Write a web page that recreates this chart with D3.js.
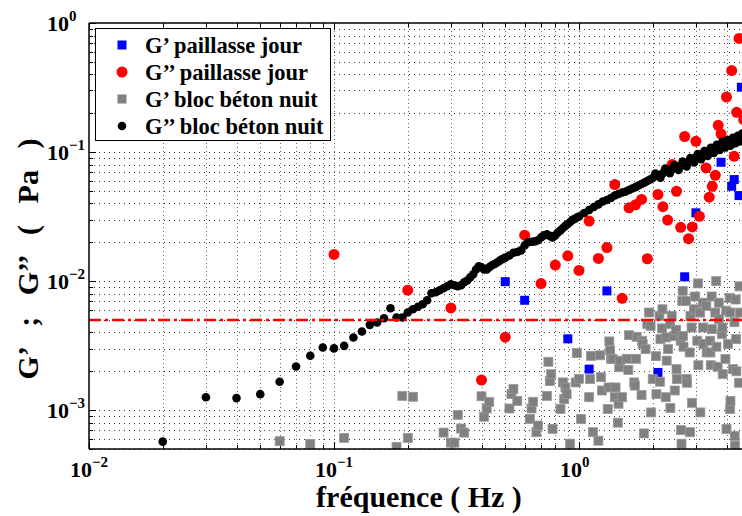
<!DOCTYPE html>
<html><head><meta charset="utf-8">
<script src="https://cdn.jsdelivr.net/npm/d3@7"></script>
<style>body{margin:0;background:#fff} svg{display:block} text{font-family:"Liberation Serif","Times New Roman",serif;font-weight:bold}</style>
</head><body>
<svg id="c" width="742" height="516"></svg>
<script>
// ---------- data ----------
const seriesNames = ["G\u2019 paillasse jour", "G\u2019\u2019 paillasse jour", "G\u2019 bloc b\u00e9ton nuit", "G\u2019\u2019 bloc b\u00e9ton nuit"];
const xTickExp = [-2, -1, 0];
const yTickExp = [-3, -2, -1, 0];
const thresholdLevel = 0.005;

const blueFreq = [0.5,0.6,0.9,1.1,1.3,2.1,2.7,3.0,3.8,4.2,4.3,4.5,4.6];
const blueG    = [0.0099,0.0071,0.00357,0.00208,0.0084,0.00196,0.0108,0.0338,0.0833,0.0543,0.0612,0.046,0.318];

const redFreq = [0.1,0.2,0.3,0.4,0.5,0.6,0.7,0.8,0.9,1.0,1.1,1.2,1.3,1.4,1.5,1.6,1.7,1.8,1.9,2.1,2.2,2.3,2.4,2.5,2.6,2.7,2.8,2.9,3.0,3.1,3.3,3.4,3.5,3.6,3.7,3.8,4.0,4.2,4.3,4.4,4.5,4.7];
const redG    = [0.0161,0.0085,0.0062,0.00171,0.00368,0.0227,0.00957,0.0133,0.0157,0.0121,0.0292,0.015,0.0182,0.056,0.00736,0.037,0.039,0.0429,0.0149,0.0469,0.0377,0.0297,0.080,0.0497,0.0261,0.132,0.0213,0.0263,0.121,0.0318,0.0754,0.0447,0.0543,0.066,0.161,0.138,0.267,0.428,0.0926,0.203,0.76,0.178];

const greyFreq = [0.06,0.08,0.11,0.18,0.19,0.20,0.21,0.28,0.30,0.31,0.32,0.33,0.34,0.40,0.41,0.42,0.43,0.52,0.53,0.54,0.56,0.63,0.64,0.65,0.67,0.68,0.74,0.75,0.76,0.77,0.78,0.84,0.86,0.87,0.88,0.89,0.92,0.97,0.98,1.00,1.02,1.10,1.11,1.12,1.14,1.20,1.22,1.23,1.24,1.31,1.32,1.33,1.34,1.35,1.37,1.40,1.41,1.44,1.45,1.46,1.47,1.50,1.57,1.59,1.60,1.68,1.69,1.71,1.72,1.80,1.81,1.82,1.84,1.87,1.90,1.93,1.96,1.97,2.00,2.06,2.07,2.13,2.14,2.15,2.18,2.19,2.26,2.27,2.28,2.31,2.35,2.36,2.39,2.45,2.46,2.49,2.50,2.51,2.60,2.61,2.62,2.64,2.65,2.66,2.67,2.73,2.75,2.76,2.83,2.84,2.85,2.88,2.89,2.95,2.98,3.04,3.06,3.07,3.12,3.13,3.20,3.21,3.22,3.31,3.32,3.43,3.44,3.45,3.48,3.49,3.60,3.63,3.64,3.68,3.72,3.73,3.83,3.85,3.86,3.96,3.99,4.00,4.06,4.12,4.13,4.14,4.15,4.25,4.31,4.32,4.33,4.36,4.38,4.39,4.50,4.52,4.54];
const greyG    = [5.75e-4,5.48e-4,6.1e-4,5.2e-4,1.29e-3,6.1e-4,1.27e-3,6.7e-4,5.6e-4,5.6e-4,9.2e-4,7.2e-4,6.7e-4,1.28e-3,8.9e-4,1.03e-3,1.16e-3,1.03e-3,1.33e-3,1.46e-3,1.18e-3,8.55e-4,1.03e-3,1.16e-3,6.75e-4,7.6e-4,1.29e-3,2.37e-3,1.68e-3,1.9e-3,7.16e-4,1.02e-3,1.64e-3,1.22e-3,1.5e-3,1.33e-3,5.5e-4,1.64e-3,2.77e-3,1.75e-3,8.55e-4,1.26e-3,1.74e-3,2.63e-3,6.75e-4,5.8e-4,2.66e-3,1.8e-3,1.42e-3,1.02e-3,1.5e-3,3.41e-3,2.9e-3,2.5e-3,2.49e-3,1.26e-3,1.5e-3,8.0e-4,1.12e-3,2.15e-3,2.42e-3,1.26e-3,2.5e-3,2.05e-3,3.81e-3,1.64e-3,1.55e-3,2.5e-3,3.7e-3,1.31e-3,3.45e-3,3.25e-3,6.6e-4,2.97e-3,4.66e-3,5.71e-3,4.5e-3,9.6e-4,1.74e-3,2.62e-3,1.33e-3,5.37e-3,1.66e-3,3.55e-3,4.3e-3,6.05e-3,1.26e-3,3.66e-3,2.42e-3,2.97e-3,4.66e-3,1.04e-3,5.37e-3,3.76e-3,1.42e-3,4.2e-3,2.08e-3,1.74e-3,3.45e-3,7.0e-4,5.5e-4,7.0e-3,8.4e-3,3.76e-3,3.1e-3,7.0e-3,1.74e-3,1.63e-3,2.8e-3,6.75e-4,5.37e-3,4.37e-3,1.14e-3,6.05e-3,7.6e-3,3.45e-3,9.6e-3,2.23e-3,5.7e-3,9.6e-4,6.8e-3,4.37e-3,3.25e-3,6.4e-3,2.8e-3,3.45e-3,2.8e-3,2.23e-3,7.6e-3,4.24e-3,5.7e-3,1.0e-2,3.1e-3,2.17e-3,6.8e-3,5.07e-3,3.89e-3,4.37e-3,1.9e-3,2.49e-3,5.9e-3,7.16e-4,3.25e-3,7.4e-3,5.71e-3,1.02e-3,1.18e-3,2.08e-3,4.8e-3,6.3e-4,5.3e-4,7.2e-3,3.55e-3,2.0e-3,1.63e-3,9.1e-3,5.7e-3];

const blackFreq = [0.02,0.03,0.04,0.05,0.06,0.07,0.08,0.09,0.10,0.11,0.12,0.13,0.14,0.15,0.16,0.17,0.18,0.19,
  0.20,0.21,0.22,0.23,0.24,0.25,0.26,0.27,0.28,0.29,0.30,0.31,0.32,0.33,0.34,0.35,0.36,0.37,0.38,0.39,0.40,0.41,0.42,0.43,0.44,0.45,0.46,0.47,0.48,0.49,0.50,
  0.52,0.54,0.56,0.58,0.60,0.62,0.64,0.66,0.68,0.70,0.72,0.74,0.76,0.78,0.80,0.82,0.84,0.86,0.88,0.90,0.92,0.94,0.96,0.98,1.00,
  1.05,1.10,1.15,1.20,1.25,1.30,1.35,1.40,1.45,1.50,1.55,1.60,1.65,1.70,1.75,1.80,1.85,1.90,1.95,2.00,
  2.05,2.1,2.15,2.2,2.25,2.3,2.35,2.4,2.45,2.5,2.55,2.6,2.65,2.7,2.75,2.8,2.85,2.9,2.95,3.0,3.05,3.1,3.15,3.2,3.25,3.3,3.35,3.4,3.45,3.5,
  3.55,3.6,3.65,3.7,3.75,3.8,3.85,3.9,3.95,4.0,4.05,4.1,4.15,4.2,4.25,4.3,4.35,4.4,4.45,4.5,4.55,4.6,4.65,4.7];
const blackG = [5.7e-4,1.26e-3,1.24e-3,1.33e-3,1.66e-3,2.18e-3,2.64e-3,3.06e-3,3.01e-3,3.15e-3,3.66e-3,4.07e-3,4.58e-3,4.78e-3,5.16e-3,6.16e-3,5.22e-3,5.22e-3,
  5.71e-3,6.05e-3,6.33e-3,6.62e-3,7.11e-3,8.05e-3,8.19e-3,8.49e-3,8.8e-3,9.12e-3,9.45e-3,9.28e-3,9.12e-3,9.28e-3,9.79e-3,1.01e-2,1.07e-2,1.13e-2,1.23e-2,1.3e-2,1.28e-2,1.23e-2,1.23e-2,1.28e-2,1.32e-2,1.35e-2,1.38e-2,1.42e-2,1.46e-2,1.49e-2,1.52e-2,
  1.58e-2,1.66e-2,1.68e-2,1.73e-2,1.89e-2,2.0e-2,2.02e-2,2.03e-2,2.07e-2,2.18e-2,2.26e-2,2.3e-2,2.24e-2,2.18e-2,2.26e-2,2.38e-2,2.47e-2,2.58e-2,2.68e-2,2.77e-2,2.87e-2,2.98e-2,3.03e-2,3.11e-2,3.17e-2,
  3.37e-2,3.56e-2,3.75e-2,3.93e-2,4.14e-2,4.25e-2,4.4e-2,4.6e-2,4.73e-2,4.86e-2,4.94e-2,5.08e-2,5.22e-2,5.35e-2,5.5e-2,5.65e-2,5.8e-2,5.96e-2,6.12e-2,6.29e-2,
  6.8e-2,6.57e-2,6.34e-2,6.87e-2,7.44e-2,7.18e-2,6.87e-2,7.38e-2,7.92e-2,7.57e-2,7.27e-2,7.85e-2,8.43e-2,8.06e-2,7.74e-2,8.35e-2,9.0e-2,8.65e-2,8.31e-2,8.97e-2,9.63e-2,9.21e-2,8.8e-2,9.46e-2,0.1017,9.72e-2,9.34e-2,0.101,0.108,0.103,
  0.0986,0.106,0.114,0.109,0.104,0.112,0.120,0.114,0.1085,0.116,0.124,0.118,0.112,0.120,0.129,0.123,0.117,0.125,0.1335,0.127,0.121,0.130,0.140,0.134];

// ---------- layout ----------
const L = 89, T = 23, B = 449, R = 742;
const svg = d3.select("#c");
const x = d3.scaleLog().domain([0.01, 10]).range([L, L + 735]);
const y = d3.scaleLog().domain([5e-4, 1]).range([B, T]);

svg.append("defs").append("clipPath").attr("id","clip").append("rect")
  .attr("x",L).attr("y",T).attr("width",R-L).attr("height",B-T);

const xGrid = [];
[-2,-1,0].forEach(k => { for (let m=1;m<=9;m++){ const v=m*Math.pow(10,k); if (x(v) <= R) xGrid.push({v, major:m===1}); } });
const yGrid = [];
[-4,-3,-2,-1].forEach(k => { for (let m=1;m<=9;m++){ const v=m*Math.pow(10,k); if (v>=5e-4-1e-12) yGrid.push({v, major:m===1}); } });
yGrid.push({v:1, major:true});

const grid = svg.append("g");
grid.selectAll("line.gx").data(xGrid.filter(d=>d.v>0.0100001)).join("line")
  .attr("x1",d=>Math.round(x(d.v))+0.5).attr("x2",d=>Math.round(x(d.v))+0.5)
  .attr("y1",T).attr("y2",B)
  .attr("stroke","#666").attr("stroke-width",1).attr("stroke-dasharray","1,3");
grid.selectAll("line.gy").data(yGrid.filter(d=>d.v<0.99999)).join("line")
  .attr("y1",d=>Math.round(y(d.v))+0.5).attr("y2",d=>Math.round(y(d.v))+0.5)
  .attr("x1",L).attr("x2",R)
  .attr("stroke","#333").attr("stroke-width",1).attr("stroke-dasharray","1,4");

const tk = svg.append("g").attr("stroke","#000").attr("stroke-width",1);
yGrid.forEach(d => {
  const len = d.major ? 7 : 4, yy = Math.round(y(d.v))+0.5;
  tk.append("line").attr("x1",L).attr("x2",L+len).attr("y1",yy).attr("y2",yy);
});
xGrid.forEach(d => {
  const len = d.major ? 7 : 4, xx = Math.round(x(d.v))+0.5;
  tk.append("line").attr("x1",xx).attr("x2",xx).attr("y1",B).attr("y2",B-len);
  tk.append("line").attr("x1",xx).attr("x2",xx).attr("y1",T).attr("y2",T+len);
});

const plot = svg.append("g").attr("clip-path","url(#clip)");
const sq = 9;
plot.selectAll("rect.blue").data(blueFreq.map((f,i)=>[f,blueG[i]])).join("rect")
  .attr("x",d=>x(d[0])-sq/2).attr("y",d=>y(d[1])-sq/2).attr("width",sq).attr("height",sq).attr("fill","#0000ff");
plot.selectAll("circle.red").data(redFreq.map((f,i)=>[f,redG[i]])).join("circle")
  .attr("cx",d=>x(d[0])).attr("cy",d=>y(d[1])).attr("r",5.5).attr("fill","#ff0000");
plot.selectAll("rect.grey").data(greyFreq.map((f,i)=>[f,greyG[i]])).join("rect")
  .attr("x",d=>x(d[0])-sq/2).attr("y",d=>y(d[1])-sq/2).attr("width",sq).attr("height",sq)
  .attr("fill","#808080").attr("stroke","#9a9a9a").attr("stroke-width",0.8);
plot.selectAll("circle.black").data(blackFreq.map((f,i)=>[f,blackG[i]])).join("circle")
  .attr("cx",d=>x(d[0])).attr("cy",d=>y(d[1])).attr("r",4.3).attr("fill","#000");
plot.append("line").attr("x1",L).attr("x2",R).attr("y1",y(thresholdLevel)).attr("y2",y(thresholdLevel))
  .attr("stroke","#ff0000").attr("stroke-width",2.5).attr("stroke-dasharray","12,4,3,4");

const ax = svg.append("g").attr("stroke","#000").attr("stroke-width",1.5).attr("fill","none");
ax.append("line").attr("x1",L).attr("x2",L).attr("y1",T).attr("y2",B);
ax.append("line").attr("x1",L).attr("x2",R).attr("y1",B).attr("y2",B);
ax.append("line").attr("x1",L).attr("x2",R).attr("y1",T).attr("y2",T);

function powLabel(g, px, py, e) {
  const t = g.append("text").attr("x",px).attr("y",py).attr("font-size",22).attr("fill","#000");
  t.append("tspan").text("10");
  t.append("tspan").attr("dy",-10).attr("font-size",15).text(e<0 ? "\u2212"+(-e) : String(e));
}
const lab = svg.append("g");
yTickExp.forEach(e => powLabel(lab, 47, y(Math.pow(10,e))+8, e));
xTickExp.forEach(e => powLabel(lab, x(Math.pow(10,e))-19, 477, e));

svg.append("text").attr("x",419).attr("y",507).attr("text-anchor","middle").attr("font-size",30).text("fr\u00e9quence ( Hz )");
svg.append("text").attr("transform","translate(38,259) rotate(-90)").attr("text-anchor","middle").attr("font-size",30)
  .attr("word-spacing",14).text("G\u2019 ; G\u2019\u2019 ( Pa )");

const lg = svg.append("g");
lg.append("rect").attr("x",95.5).attr("y",28.5).attr("width",235).attr("height",112).attr("fill","#fff").attr("stroke","#000").attr("stroke-width",1);
const rowsY = [45, 72, 99, 126];
lg.append("rect").attr("x",122-sq/2).attr("y",rowsY[0]-sq/2).attr("width",sq).attr("height",sq).attr("fill","#0000ff");
lg.append("circle").attr("cx",122).attr("cy",rowsY[1]).attr("r",5.5).attr("fill","#ff0000");
lg.append("rect").attr("x",122-sq/2).attr("y",rowsY[2]-sq/2).attr("width",sq).attr("height",sq).attr("fill","#808080");
lg.append("circle").attr("cx",122).attr("cy",rowsY[3]).attr("r",4.3).attr("fill","#000");
seriesNames.forEach((n,i) => lg.append("text").attr("x",145).attr("y",rowsY[i]+8).attr("font-size",22.5).text(n));
</script>
</body></html>
